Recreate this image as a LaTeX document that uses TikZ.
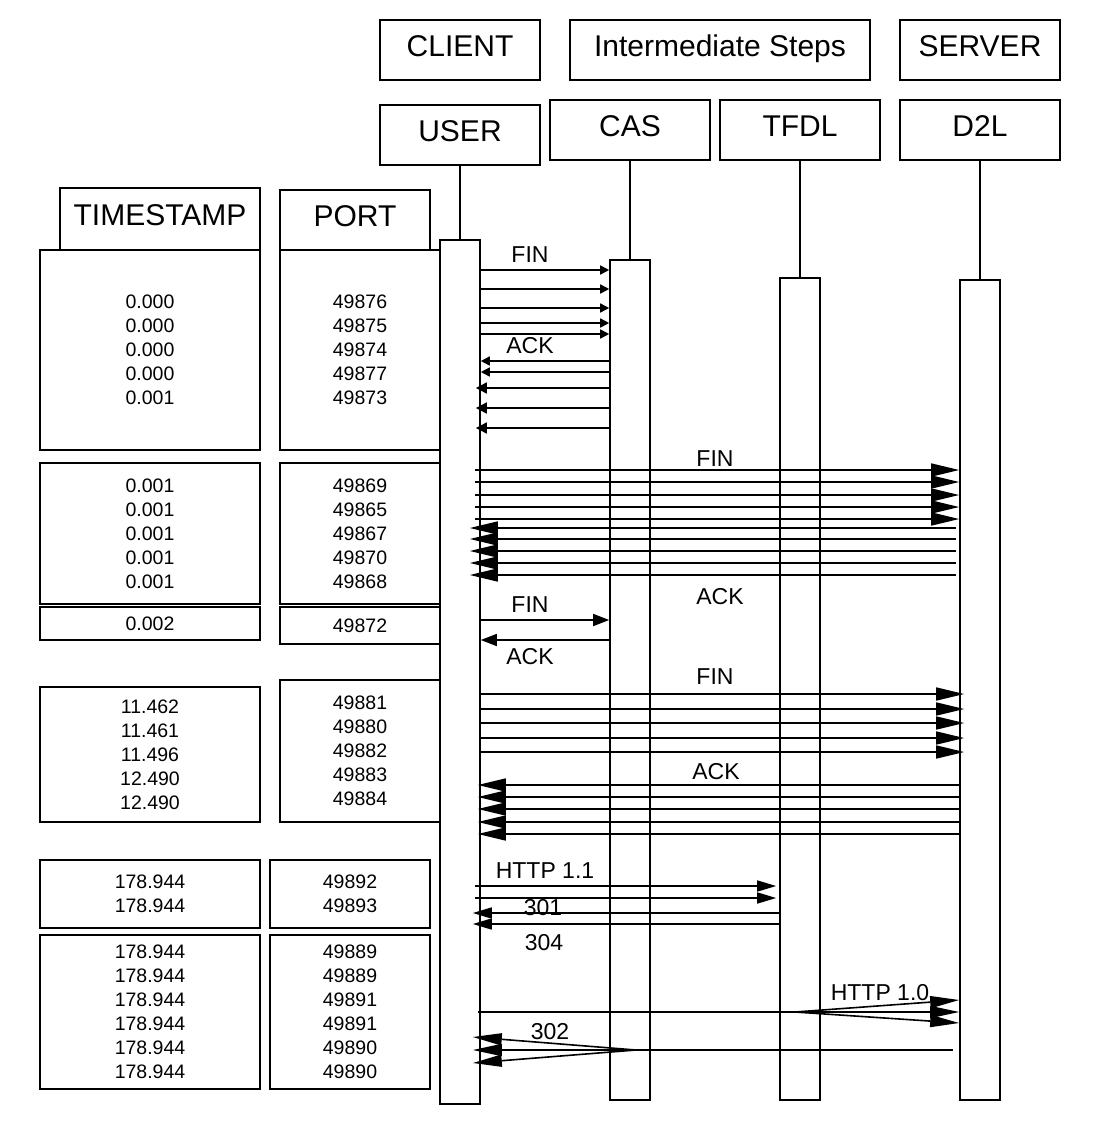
\documentclass[tikz,border=0pt]{standalone}
\usepackage{fontspec}
\setmainfont{Liberation Sans}
\usetikzlibrary{arrows.meta}
\newcommand{\mybox}[7][]{\node[box,minimum width={(#4)-(#2)},minimum height={(#5)-(#3)},#1] (#6) at ({((#2)+(#4))/2},{((#3)+(#5))/2}) {#7};}
\tikzset{
 box/.style={draw,line width=1.6pt,inner sep=0pt},
 hdr/.style={font=\fontsize{30}{34}\selectfont,text height=22pt,text depth=8.5pt},
 num/.style={font=\fontsize{19.5}{24}\selectfont,align=center},
 lbl/.style={font=\fontsize{23}{26}\selectfont,inner sep=0pt,text depth=0pt},
 life/.style={line width=1.4pt},
 msg/.style={line width=1.6pt},
 hs/.style={msg,-{Triangle[length=9pt,width=9pt]}},
 hsb/.style={msg,-{Triangle[length=11pt,width=11pt]}},
 hb/.style={msg,-{Triangle[length=28pt,width=13pt]}},
 hm/.style={msg,-{Triangle[length=16pt,width=12pt]}},
 hh/.style={msg,-{Triangle[length=19pt,width=11pt]}},
 hl/.style={msg,-{Triangle[length=29pt,width=12pt]}},
}
\begin{document}
\begin{tikzpicture}[x=1pt,y=-1pt]
\useasboundingbox (0,0) rectangle (1100,1144);
% headers
\mybox[hdr]{380}{20}{540}{80}{client}{CLIENT}
\mybox[hdr]{570}{20}{870}{80}{inter}{Intermediate Steps}
\mybox[hdr]{900}{20}{1060}{80}{server}{SERVER}
\mybox[hdr]{380}{105}{540}{165}{user}{USER}
\mybox[hdr]{550}{100}{710}{160}{cas}{CAS}
\mybox[hdr]{720}{100}{880}{160}{tfdl}{TFDL}
\mybox[hdr]{900}{100}{1060}{160}{dtl}{D2L}
\mybox[hdr]{60}{188}{260}{250}{tshead}{TIMESTAMP}
\mybox[hdr]{280}{190}{430}{250}{porthead}{PORT}
% activation bars
\mybox{440}{240}{480}{1104}{userbar}{}
\mybox{610}{260}{650}{1100}{casbar}{}
\mybox{780}{278}{820}{1100}{tfdlbar}{}
\mybox{960}{280}{1000}{1100}{dtlbar}{}
\draw[life] (user) -- (userbar);
\draw[life] (cas) -- (casbar);
\draw[life] (tfdl) -- (tfdlbar);
\draw[life] (dtl) -- (dtlbar);
% tables
\mybox[num]{40}{250}{260}{450}{ts1}{0.000\\0.000\\0.000\\0.000\\0.001}
\mybox[num]{280}{250}{440}{450}{pt1}{49876\\49875\\49874\\49877\\49873}
\mybox[num]{40}{463}{260}{604}{ts2}{0.001\\0.001\\0.001\\0.001\\0.001}
\mybox[num]{280}{463}{440}{604}{pt2}{49869\\49865\\49867\\49870\\49868}
\mybox[num]{40}{607}{260}{640}{ts3}{0.002}
\mybox[num]{280}{607}{440}{644}{pt3}{49872}
\mybox[num]{40}{687}{260}{822}{ts4}{11.462\\11.461\\11.496\\12.490\\12.490}
\mybox[num]{280}{680}{440}{822}{pt4}{49881\\49880\\49882\\49883\\49884}
\mybox[num]{40}{860}{260}{928}{ts5}{178.944\\178.944}
\mybox[num]{270}{860}{430}{928}{pt5}{49892\\49893}
\mybox[num]{40}{935}{260}{1089}{ts6}{178.944\\178.944\\178.944\\178.944\\178.944\\178.944}
\mybox[num]{270}{935}{430}{1089}{pt6}{49889\\49889\\49891\\49891\\49890\\49890}
% helper coordinates
\coordinate (uA) at ([xshift=-6pt]userbar.east);
\coordinate (uB) at ([xshift=-11pt]userbar.east);
\coordinate (uC) at ([xshift=-3pt]userbar.east);
\coordinate (uD) at ([xshift=-8pt]userbar.east);
\coordinate (uE) at ([xshift=-5pt]userbar.east);
\coordinate (dA) at ([xshift=-3pt]dtlbar.west);
\coordinate (dB) at ([xshift=5pt]dtlbar.west);
\coordinate (dC) at ([xshift=-6pt]dtlbar.west);
\coordinate (dD) at ([xshift=2pt]dtlbar.west);
\coordinate (tA) at ([xshift=-3pt]tfdlbar.west);
\coordinate (tB) at ([xshift=2pt]tfdlbar.west);
% group 1
\foreach \y in {270,289,308,323,334} \draw[hs] (userbar.east |- 0,\y) -- (casbar.west |- 0,\y);
\foreach \y in {361,372} \draw[hs] (casbar.west |- 0,\y) -- (userbar.east |- 0,\y);
\foreach \y in {388,408,428} \draw[hsb] (casbar.west |- 0,\y) -- (uE |- 0,\y);
\node[lbl] (fin1) at (530,255) {FIN};
\node[lbl] (ack1) at (530,345) {ACK};
% group 2
\foreach \y in {470,482,495,507,519} \draw[hb] (uA |- 0,\y) -- (dtlbar.west |- 0,\y);
\foreach \y in {528,539,551,563,575} \draw[hb] (dA |- 0,\y) -- (uB |- 0,\y);
\node[lbl] (fin2) at (715,459) {FIN};
\node[lbl] (ack2) at (720,596) {ACK};
% group 3
\draw[hm] (userbar.east |- 0,620) -- (casbar.west |- 0,620);
\draw[hm] (casbar.west |- 0,640) -- (userbar.east |- 0,640);
\node[lbl] (fin3) at (530,605) {FIN};
\node[lbl] (ack3) at (530,656) {ACK};
% group 4
\foreach \y in {694,709,723,738,752} \draw[hb] (userbar.east |- 0,\y) -- (dB |- 0,\y);
\foreach \y in {785,797,809,822,834} \draw[hb] (dD |- 0,\y) -- (uC |- 0,\y);
\node[lbl] (fin4) at (715,677) {FIN};
\node[lbl] (ack4) at (716,771) {ACK};
% group 5
\foreach \y in {886,898} \draw[hh] (uA |- 0,\y) -- (tA |- 0,\y);
\foreach \y in {913,924} \draw[hh] (tB |- 0,\y) -- (uD |- 0,\y);
\node[lbl] (h11) at (545,871) {HTTP 1.1};
\node[lbl] (c301) at (543,907) {301};
\node[lbl] (c304) at (544,942) {304};
\coordinate (fork) at (795,1012);
\draw[hl] (uC |- 0,1012) -- (dtlbar.west |- 0,1012);
\draw[hl] (fork) -- (dtlbar.west |- 0,1000);
\draw[hl] (fork) -- (dtlbar.west |- 0,1023);
\node[lbl] (h10) at (880,992) {HTTP 1.0};
\coordinate (join) at (636,1050);
\draw[hl] (dC |- 0,1050) -- (uD |- 0,1050);
\draw[hl] (join) -- (uD |- 0,1037);
\draw[hl] (join) -- (uD |- 0,1063);
\node[lbl] (c302) at (550,1031) {302};
\end{tikzpicture}
\end{document}
